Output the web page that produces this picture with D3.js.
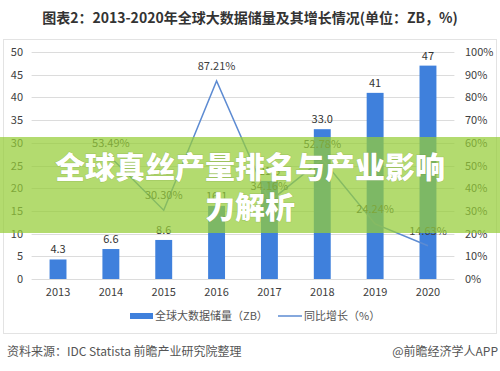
<!DOCTYPE html>
<html>
<head>
<meta charset="utf-8">
<script src="https://cdn.jsdelivr.net/npm/d3@7"></script>
<style>
  html, body { margin: 0; padding: 0; background: #fff; }
  svg { display: block; }
  text { font-family: "Noto Sans CJK SC", "Noto Sans", sans-serif; }
</style>
</head>
<body>
<script>
const years = ["2013", "2014", "2015", "2016", "2017", "2018", "2019", "2020"];
const storage = [4.3, 6.6, 8.6, 16.1, 21.6, 33.0, 41, 47];
const storageLabels = ["4.3", "6.6", "8.6", "16.1", "21.6", "33.0", "41", "47"];
const growth = [null, 53.49, 30.30, 87.21, 34.16, 52.78, 24.24, 14.63];
const leftTicks = [0, 5, 10, 15, 20, 25, 30, 35, 40, 45, 50];
const rightTicks = [0, 10, 20, 30, 40, 50, 60, 70, 80, 90, 100];

const width = 500, height = 371;
const plot = { left: 31.6, right: 454.4, top: 52, bottom: 279 };

const svg = d3.select("body").append("svg")
  .attr("width", width)
  .attr("height", height)
  .attr("viewBox", `0 0 ${width} ${height}`);

// Title
svg.append("text")
  .attr("x", 250).attr("y", 23)
  .attr("text-anchor", "middle")
  .attr("font-size", 14).attr("font-weight", "bold")
  .attr("fill", "#333")
  .text("图表2：2013-2020年全球大数据储量及其增长情况(单位：ZB，%)");

// Frame
svg.append("rect")
  .attr("x", 3.5).attr("y", 39.5)
  .attr("width", 493).attr("height", 294)
  .attr("fill", "#fff").attr("stroke", "#e3e3e3");

// Scales
const x = d3.scaleBand().domain(years).range([plot.left, plot.right]).paddingInner(0.68).paddingOuter(0.34);
const yL = d3.scaleLinear().domain([0, 50]).range([plot.bottom, plot.top]);
const yR = d3.scaleLinear().domain([0, 100]).range([plot.bottom, plot.top]);
const cx = (d) => x(d) + x.bandwidth() / 2;

// Gridlines
svg.append("g").selectAll("line").data(leftTicks).join("line")
  .attr("x1", plot.left).attr("x2", plot.right)
  .attr("y1", (d) => Math.round(yL(d)) + 0.5).attr("y2", (d) => Math.round(yL(d)) + 0.5)
  .attr("stroke", "#dcdcdc");

// Axes
const leftAxis = svg.append("g")
  .attr("transform", `translate(23,0)`)
  .call(d3.axisLeft(yL).tickValues(leftTicks).tickSize(0).tickPadding(0));
const rightAxis = svg.append("g")
  .attr("transform", `translate(465,0)`)
  .call(d3.axisRight(yR).tickValues(rightTicks).tickSize(0).tickPadding(0).tickFormat((d) => d + "%"));
const bottomAxis = svg.append("g")
  .attr("transform", `translate(0,${plot.bottom})`)
  .call(d3.axisBottom(x).tickSize(0).tickPadding(9));
[leftAxis, rightAxis, bottomAxis].forEach((g) => {
  g.select(".domain").remove();
  g.selectAll("text").attr("font-size", 11).attr("fill", "#404040")
    .attr("font-family", '"Noto Sans CJK SC", sans-serif');
});

// Bars
svg.append("g").selectAll("rect").data(years).join("rect")
  .attr("x", (d) => x(d))
  .attr("y", (d, i) => yL(storage[i]))
  .attr("width", x.bandwidth())
  .attr("height", (d, i) => plot.bottom - yL(storage[i]))
  .attr("fill", "#3f80dc");

svg.append("g").selectAll("text").data(years).join("text")
  .attr("x", cx)
  .attr("y", (d, i) => yL(storage[i]) - 6)
  .attr("text-anchor", "middle")
  .attr("font-size", 11).attr("fill", "#333")
  .text((d, i) => storageLabels[i]);

// Growth line
const pts = years.map((d, i) => ({ year: d, v: growth[i] })).filter((p) => p.v !== null);
svg.append("path")
  .datum(pts)
  .attr("d", d3.line().x((p) => cx(p.year)).y((p) => yR(p.v)))
  .attr("fill", "none").attr("stroke", "#5d8bd2").attr("stroke-width", 1.5);

svg.append("g").selectAll("text").data(pts).join("text")
  .attr("x", (p) => cx(p.year))
  .attr("y", (p) => yR(p.v) - 11)
  .attr("text-anchor", "middle")
  .attr("font-size", 11).attr("fill", "#404040")
  .text((p) => p.v.toFixed(2) + "%");

// Legend
const legend = svg.append("g").attr("font-size", 11).attr("fill", "#555");
legend.append("rect").attr("x", 130).attr("y", 313).attr("width", 23).attr("height", 6).attr("fill", "#3f80dc");
legend.append("text").attr("x", 155).attr("y", 320).text("全球大数据储量（ZB）");
legend.append("line").attr("x1", 278).attr("x2", 302).attr("y1", 316).attr("y2", 316)
  .attr("stroke", "#5d8bd2").attr("stroke-width", 1.5);
legend.append("text").attr("x", 304).attr("y", 320).text("同比增长（%）");

// Footer
svg.append("text").attr("x", 7).attr("y", 356)
  .attr("font-size", 12).attr("fill", "#555")
  .text("资料来源：IDC Statista 前瞻产业研究院整理");
svg.append("text").attr("x", 498).attr("y", 356)
  .attr("text-anchor", "end")
  .attr("font-size", 12).attr("fill", "#555")
  .text("@前瞻经济学人APP");

// Overlay banner
svg.append("rect")
  .attr("x", 0).attr("y", 137)
  .attr("width", width).attr("height", 96)
  .attr("fill", "rgba(150,205,55,0.72)");

const banner = svg.append("g")
  .attr("font-size", 30).attr("font-weight", 900)
  .attr("fill", "#fff").attr("text-anchor", "middle")
  .style("paint-order", "stroke")
  .attr("stroke", "rgba(90,120,40,0.25)").attr("stroke-width", 1);
banner.append("text").attr("x", 250).attr("y", 178).text("全球真丝产量排名与产业影响");
banner.append("text").attr("x", 250).attr("y", 218).text("力解析");
</script>
</body>
</html>
